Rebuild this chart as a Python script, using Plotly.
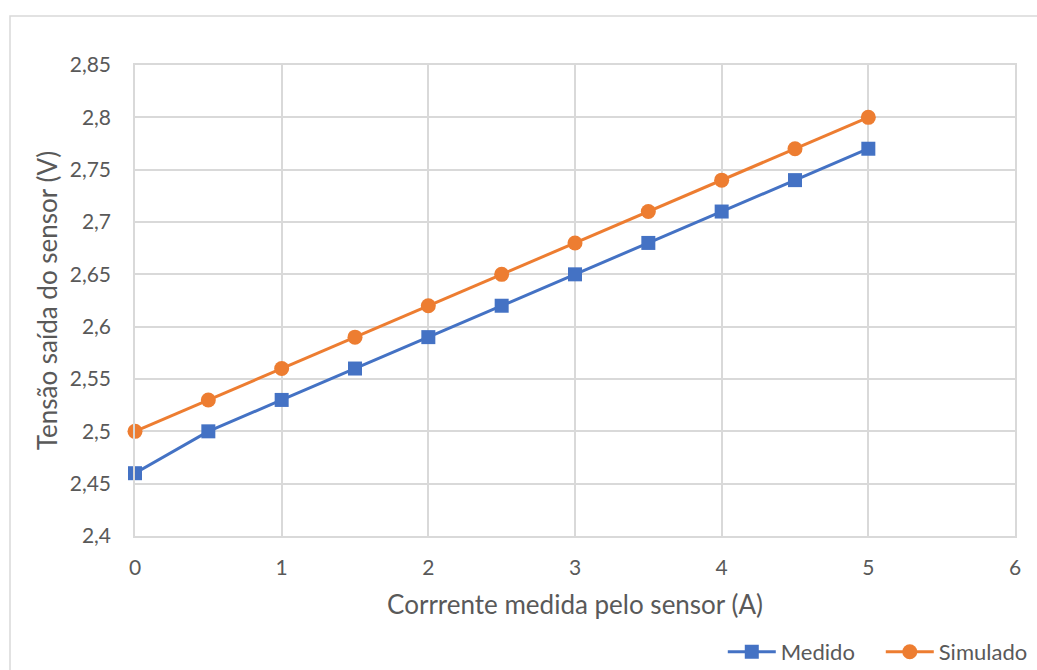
import plotly.graph_objects as go

# Sensor current (A) and output voltage (V)
corrente = [0, 0.5, 1, 1.5, 2, 2.5, 3, 3.5, 4, 4.5, 5]
medido = [2.46, 2.50, 2.53, 2.56, 2.59, 2.62, 2.65, 2.68, 2.71, 2.74, 2.77]
simulado = [2.50, 2.53, 2.56, 2.59, 2.62, 2.65, 2.68, 2.71, 2.74, 2.77, 2.80]

AZUL = "#4472C4"
LARANJA = "#ED7D31"
GRADE = "#D9D9D9"
TEXTO = "#595959"
FONTE = "Lato, 'Open Sans', sans-serif"

fig = go.Figure()
fig.add_trace(go.Scatter(
    x=corrente, y=medido, name="Medido", mode="lines+markers",
    line=dict(color=AZUL, width=3),
    marker=dict(symbol="square", size=14, color=AZUL),
    cliponaxis=False,
))
fig.add_trace(go.Scatter(
    x=corrente, y=simulado, name="Simulado", mode="lines+markers",
    line=dict(color=LARANJA, width=3),
    marker=dict(symbol="circle", size=15, color=LARANJA),
    cliponaxis=False,
))

fig.update_layout(
    width=1037, height=670,
    margin=dict(l=135, r=22, t=65, b=134, autoexpand=False),
    paper_bgcolor="white", plot_bgcolor="white",
    separators=",.",
    font=dict(family=FONTE, size=21, color=TEXTO),
    showlegend=True,
    legend=dict(
        orientation="h", xref="container", yref="container",
        x=0.697, xanchor="left", y=0.027, yanchor="middle",
        font=dict(size=22, color=TEXTO), itemwidth=48, bgcolor="rgba(0,0,0,0)",
        entrywidth=95, entrywidthmode="pixels",
    ),
    shapes=[dict(
        type="rect", xref="paper", yref="paper",
        x0=-125 / 880, x1=1.1, y0=-0.4, y1=1 + 49 / 471,
        line=dict(color=GRADE, width=1.5), fillcolor="rgba(0,0,0,0)", layer="below",
    )],
)

fig.update_xaxes(
    range=[0, 6], dtick=1, tick0=0,
    showgrid=True, gridcolor=GRADE, gridwidth=1.5,
    showline=True, linecolor=GRADE, linewidth=1.5, mirror=True,
    zeroline=False, ticks="", ticklabelstandoff=12,
    tickfont=dict(size=21, color=TEXTO),
    title=dict(text="Corrrente medida pelo sensor (A)", font=dict(size=26, color=TEXTO), standoff=18),
)
fig.update_yaxes(
    range=[2.4, 2.85], dtick=0.05, tick0=2.4,
    showgrid=True, gridcolor=GRADE, gridwidth=1.5,
    showline=True, linecolor=GRADE, linewidth=1.5, mirror=True,
    zeroline=False, ticks="", ticklabelstandoff=18,
    tickfont=dict(size=21, color=TEXTO),
    title=dict(text="Tensão saída do sensor (V)", font=dict(size=26, color=TEXTO), standoff=5),
)

fig.write_html("out.html")
